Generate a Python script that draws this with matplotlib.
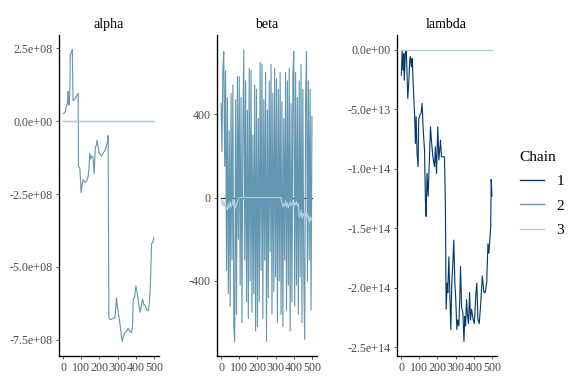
import numpy as np
import matplotlib.pyplot as plt
from matplotlib.lines import Line2D

plt.rcParams['font.family'] = ['Liberation Serif', 'DejaVu Serif']

CHAIN_COLORS = ['#03396c', '#6497b1', '#b3cde0']
chains = ['1', '2', '3']

# alpha, chain 2 wanders; chains 1 and 3 stay at zero
alpha_c2_iter = [4, 13, 18, 24, 28, 31, 33, 37, 40, 46, 51, 53, 55, 64, 74, 83, 85, 92, 96, 99,
                 105, 110, 119, 129, 138, 143, 147, 153, 158, 165, 171, 175, 178, 184, 187, 193,
                 199, 206, 211, 221, 230, 239, 243, 248, 252, 259, 267, 276, 285, 290, 294, 300,
                 303, 312, 318, 325, 331, 340, 349, 358, 368, 377, 382, 386, 393, 401, 408, 415,
                 423, 430, 437, 445, 450, 460, 469, 474, 478, 482, 487, 493, 500]
alpha_c2 = [0.26e8, 0.32e8, 0.5e8, 0.62e8, 1.02e8, 0.75e8, 0.55e8, 0.9e8, 2.3e8, 2.35e8, 2.45e8,
            1.5e8, 0.7e8, 0.75e8, 0.85e8, 0.95e8, -1.55e8, -1.6e8, -2.0e8, -2.45e8,
            -2.2e8, -2.0e8, -2.1e8, -2.07e8, -1.9e8, -1.6e8, -1.1e8, -1.3e8, -1.2e8, -1.25e8,
            -1.8e8, -1.2e8, -0.9e8, -0.8e8, -0.65e8, -0.9e8, -1.1e8, -1.15e8, -1.2e8, -1.1e8,
            -1.0e8, -0.85e8, -0.75e8, -0.5e8, -6.75e8, -6.8e8, -6.8e8, -6.75e8, -6.75e8, -6.4e8,
            -6.05e8, -6.4e8, -6.55e8, -6.9e8, -7.2e8, -7.55e8, -7.4e8, -7.25e8, -7.2e8, -7.1e8,
            -7.2e8, -7.25e8, -7.0e8, -6.1e8, -6.05e8, -5.65e8, -5.9e8, -6.2e8, -6.55e8, -6.35e8,
            -6.1e8, -6.3e8, -6.3e8, -6.45e8, -6.5e8, -6.3e8, -5.9e8, -5.3e8, -4.2e8, -4.15e8, -4.0e8]
flat_iter = [1, 500]
flat_zero = [0, 0]

# beta, chain 2 swings every few iterations (read every 5th)
beta_c2 = [450, 220, 620, 700, 150, 610, -350, 480, -460, 320,
           -520, 500, -300, 540, -620, -690, 470, -560, 580, -200,
           580, -420, 480, -600, 300, 710, -300, 560, -500, 420,
           -580, 620, -400, 610, -550, 300, -460, 540, -640, 520,
           -620, 380, -500, 650, -350, 640, -580, 470, -300, 600,
           -690, 420, -480, 560, -260, 640, -560, 500, -450, 620,
           -380, 570, -600, 520, -400, 600, -560, 460, -620, 380,
           -300, 600, -540, 560, -420, 620, -640, 450, -500, 580,
           700, -520, 600, -420, 480, -560, 560, -380, 640, -600,
           520, -350, -680, 460, 700, -400, 560, -300, 520, -540, 390]
beta_c2_iter = np.arange(0, 501, 5)
beta_c3_iter = [0, 5, 10, 15, 20, 25, 30, 35, 40, 45, 50, 55, 60, 65, 70, 75, 80, 85, 90, 95, 100,
                330, 335, 340, 345, 350, 355, 360, 365, 370, 375, 380, 385, 390, 395, 400, 405,
                410, 415, 420, 425, 430, 435, 440, 445, 450, 455, 460, 465, 470, 475, 480, 485,
                490, 495, 500]
beta_c3 = [-10, -35, -15, -40, -25, -55, -45, -60, -30, -50, -20, -45, -35, -10, -40, -25, -50, -30,
           -20, -5, 0,
           0, -25, -45, -30, -40, -15, -45, -25, -50, -35, -20, -40, -30, -15, -45, -25, -35, -20,
           -40, -30, -95, -85, -60, -100, -75, -90, -65, -85, -105, -80, -95, -120, -90, -110, -100]

# lambda, chain 1 wanders (values in units of 1e13); chains 2 and 3 stay at zero
lambda_c1_iter = [2, 6, 11, 15, 18, 24, 29, 37, 42, 48, 51, 57, 61, 70, 75, 79, 83, 88, 94, 97,
                  103, 110, 116, 121, 129, 134, 138, 143, 149, 154, 162, 167, 175, 184, 189, 195,
                  202, 208, 217, 222, 230, 239, 244, 248, 254, 257, 263, 268, 274, 279, 285, 290,
                  296, 301, 307, 312, 318, 324, 327, 333, 340, 346, 351, 355, 360, 366, 371, 377,
                  382, 388, 397, 403, 412, 417, 423, 430, 437, 447, 456, 463, 471, 478, 483, 489,
                  493, 496, 500]
lambda_c1_e13 = [-2.15, -0.06, -1.73, -0.34, -2.57, -0.2, -0.06, -4.1, -2.85, -0.9, -0.6, -1.45,
                 -0.75, -3.97, -5.64, -7.88, -5.64, -8.71, -9.83, -5.92, -5.5, -5.36, -4.52, -6.48,
                 -8.43, -12.6, -14.0, -10.4, -12.3, -10.1, -6.48, -7.6, -9.0, -9.83, -8.16, -10.4,
                 -6.48, -9.27, -7.6, -9.0, -9.0, -9.0, -13.2, -21.8, -19.6, -20.4, -17.4, -20.4,
                 -23.5, -19.6, -17.9, -16.0, -19.6, -21.0, -23.5, -22.7, -23.2, -20.4, -18.2, -21.6,
                 -22.1, -24.5, -22.4, -23.2, -21.0, -22.4, -23.0, -20.4, -22.7, -21.8, -22.7, -23.0,
                 -20.4, -19.6, -22.7, -23.0, -21.6, -19.0, -20.4, -20.4, -19.6, -16.3, -17.1, -15.8,
                 -14.9, -10.9, -12.3]

alpha_ticks = [2.5e8, 0, -2.5e8, -5e8, -7.5e8]
alpha_labels = ['2.5e+08', '0.0e+00', '-2.5e+08', '-5.0e+08', '-7.5e+08']
beta_ticks = [400, 0, -400]
beta_labels = ['400', '0', '-400']
lambda_ticks = [0, -5e13, -1e14, -1.5e14, -2e14, -2.5e14]
lambda_labels = ['0.0e+00', '-5.0e+13', '-1.0e+14', '-1.5e+14', '-2.0e+14', '-2.5e+14']
x_ticks = [0, 100, 200, 300, 400, 500]

fig = plt.figure(figsize=(6, 4), dpi=96)
W, H = 576, 384
bottom = (H - 356) / H
height = 321 / H

panels = [
    ('alpha', 58.5, [(flat_iter, flat_zero), (alpha_c2_iter, alpha_c2), (flat_iter, flat_zero)],
     alpha_ticks, alpha_labels),
    ('beta', 216.5, [(flat_iter, flat_zero), (beta_c2_iter, beta_c2), (beta_c3_iter, beta_c3)],
     beta_ticks, beta_labels),
    ('lambda', 396.5, [(lambda_c1_iter, np.array(lambda_c1_e13) * 1e13), (flat_iter, flat_zero),
                       (flat_iter, flat_zero)],
     lambda_ticks, lambda_labels),
]

for name, left, series, yt, yl in panels:
    ax = fig.add_axes([left / W, bottom, 100 / W, height])
    for (xs, ys), col in zip(series, CHAIN_COLORS):
        ax.plot(xs, ys, color=col, linewidth=0.85)
    ax.set_xlim(-25, 525)
    ax.set_xticks(x_ticks)
    ax.set_xticklabels([str(t) for t in x_ticks])
    ax.set_yticks(yt)
    ax.set_yticklabels(yl)
    ax.set_title(name, fontsize=10.5, pad=5)
    for s in ['top', 'right']:
        ax.spines[s].set_visible(False)
    for s in ['left', 'bottom']:
        ax.spines[s].set_linewidth(1.0)
    ax.tick_params(labelsize=9, colors='#333333', length=2.5, width=0.6, labelcolor='#4d4d4d', pad=2)

handles = [Line2D([], [], color=c, linewidth=1.0) for c in CHAIN_COLORS]
leg = fig.legend(handles, chains, title='Chain', loc='center left', bbox_to_anchor=(506 / W, 1 - 194 / H),
                 frameon=False, fontsize=11.5, title_fontsize=11.5, handlelength=1.6, labelspacing=0.7,
                 alignment='left')

fig.savefig('out.png', dpi=96)
